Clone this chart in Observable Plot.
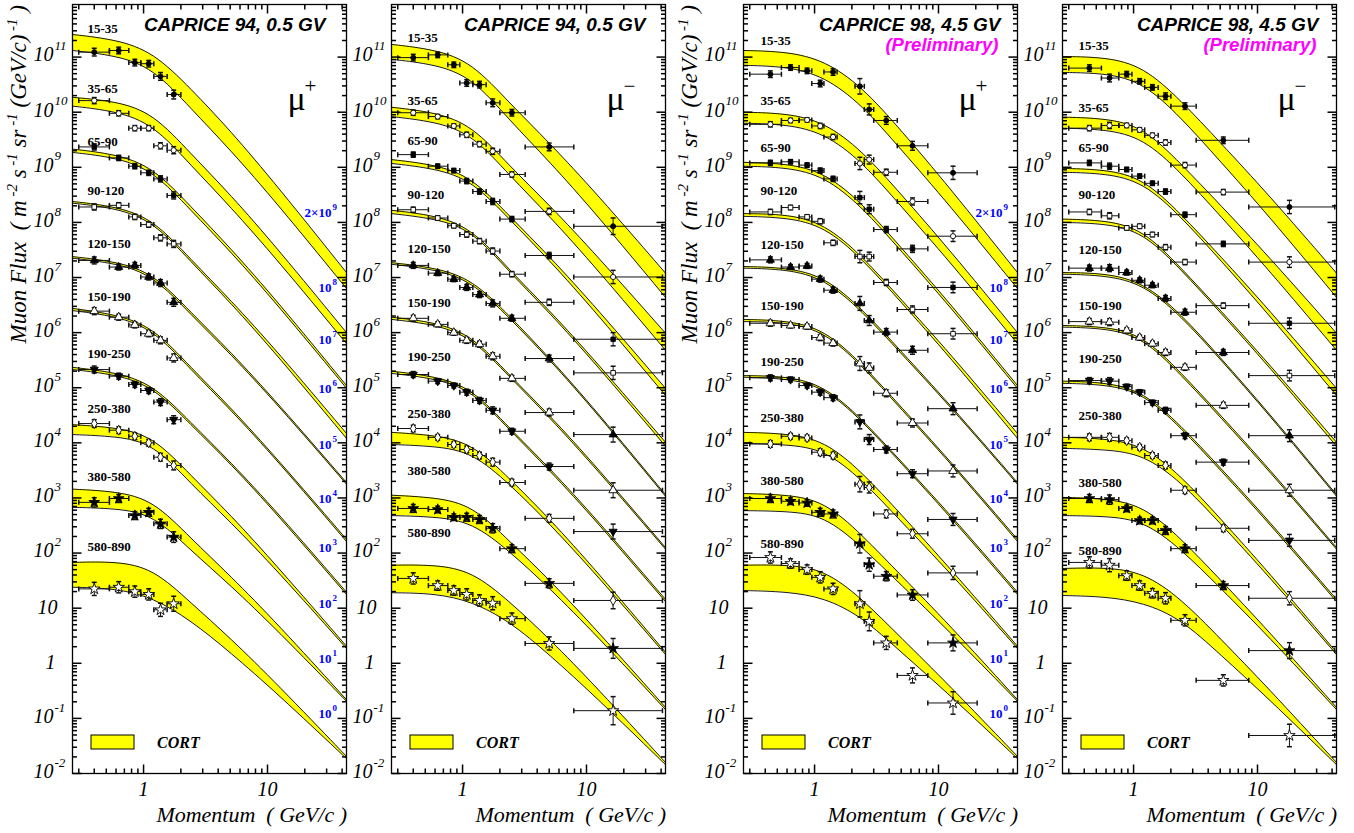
<!DOCTYPE html>
<html>
<head>
<meta charset="utf-8">
<script src="https://cdn.jsdelivr.net/npm/d3@7"></script>
<script src="https://cdn.jsdelivr.net/npm/@observablehq/plot@0.6"></script>
<style>
  html, body { margin: 0; padding: 0; background: #fff; }
  #chart { position: relative; width: 1354px; height: 833px; overflow: hidden; background: #fff; }
  #chart svg { position: absolute; top: 0; overflow: visible; }
</style>
</head>
<body>
<div id="chart"></div>
<script>
// ================= DATA =================
// Altitude (atmospheric depth) ranges, g/cm^2
const altitudeRanges = ["15-35", "35-65", "65-90", "90-120", "120-150", "150-190", "190-250", "250-380", "380-580", "580-890"];
// Scale factors applied to each range (blue labels)
const factorBase = ["2\u00d710", "10", "10", "10", "10", "10", "10", "10", "10", "10"];
const factorExp = ["9", "8", "7", "6", "5", "4", "3", "2", "1", "0"];

// Momentum grid (GeV/c) at which the CORT band edges were read
const momentumGrid = [0.267, 0.6, 1.2, 2.4, 5, 12, 43.4];

// CORT bands, log10(flux) upper / lower edge, one row per altitude range
const cort94PlusHi = [
  [11.41, 11.32, 11.09, 10.43, 9.67, 8.66, 7.09],
  [10.27, 10.20, 9.98, 9.25, 8.51, 7.53, 6.00],
  [9.33, 9.24, 9.00, 8.29, 7.54, 6.57, 5.04],
  [8.38, 8.29, 8.06, 7.33, 6.60, 5.66, 4.17],
  [7.38, 7.29, 7.08, 6.37, 5.66, 4.73, 3.28],
  [6.44, 6.33, 6.10, 5.37, 4.65, 3.71, 2.25],
  [5.37, 5.28, 5.06, 4.37, 3.66, 2.74, 1.29],
  [4.33, 4.28, 4.12, 3.41, 2.70, 1.76, 0.31],
  [3.16, 3.12, 2.96, 2.27, 1.59, 0.72, -0.66],
  [1.83, 1.85, 1.72, 1.10, 0.46, -0.38, -1.69]
];
const cort94PlusLo = [
  [11.12, 11.03, 10.80, 10.07, 9.32, 8.34, 6.80],
  [10.11, 10.02, 9.78, 9.04, 8.29, 7.32, 5.80],
  [9.27, 9.18, 8.94, 8.22, 7.48, 6.51, 4.99],
  [8.35, 8.26, 8.02, 7.29, 6.55, 5.59, 4.08],
  [7.35, 7.26, 7.04, 6.33, 5.62, 4.70, 3.25],
  [6.40, 6.30, 6.06, 5.33, 4.61, 3.68, 2.21],
  [5.33, 5.24, 5.02, 4.33, 3.63, 2.70, 1.25],
  [4.15, 4.12, 3.99, 3.26, 2.57, 1.68, 0.27],
  [2.83, 2.81, 2.70, 2.05, 1.42, 0.60, -0.69],
  [1.38, 1.36, 1.19, 0.78, 0.20, -0.55, -1.73]
];
const cort94MinusHi = [
  [11.23, 11.14, 10.90, 10.16, 9.45, 8.53, 7.08],
  [10.09, 10.00, 9.76, 9.02, 8.32, 7.41, 5.99],
  [9.14, 9.05, 8.82, 8.11, 7.39, 6.45, 4.99],
  [8.22, 8.13, 7.89, 7.13, 6.41, 5.47, 4.01],
  [7.27, 7.18, 6.97, 6.30, 5.55, 4.58, 3.06],
  [6.28, 6.19, 5.95, 5.22, 4.51, 3.57, 2.10],
  [5.30, 5.21, 4.99, 4.26, 3.55, 2.62, 1.16],
  [4.19, 4.14, 3.99, 3.35, 2.63, 1.68, 0.20],
  [3.05, 3.01, 2.87, 2.21, 1.52, 0.61, -0.80],
  [1.78, 1.79, 1.67, 1.12, 0.45, -0.43, -1.80]
];
const cort94MinusLo = [
  [10.96, 10.87, 10.63, 9.85, 9.11, 8.15, 6.64],
  [9.92, 9.83, 9.60, 8.85, 8.12, 7.17, 5.68],
  [9.07, 8.98, 8.76, 8.05, 7.32, 6.36, 4.86],
  [8.16, 8.07, 7.86, 7.09, 6.37, 5.42, 3.94],
  [7.24, 7.15, 6.93, 6.26, 5.52, 4.55, 3.03],
  [6.24, 6.15, 5.91, 5.19, 4.47, 3.53, 2.07],
  [5.26, 5.17, 4.95, 4.23, 3.51, 2.58, 1.12],
  [3.97, 3.94, 3.83, 3.25, 2.54, 1.61, 0.16],
  [2.68, 2.66, 2.56, 2.03, 1.37, 0.51, -0.84],
  [1.28, 1.27, 1.12, 0.76, 0.16, -0.62, -1.84]
];
const cort98PlusHi = [
  [11.12, 11.10, 10.94, 10.47, 9.67, 8.66, 7.09],
  [10.00, 9.98, 9.82, 9.31, 8.51, 7.53, 6.00],
  [9.09, 9.07, 8.91, 8.36, 7.54, 6.57, 5.04],
  [8.16, 8.15, 7.98, 7.40, 6.60, 5.66, 4.17],
  [7.20, 7.18, 7.02, 6.44, 5.66, 4.73, 3.28],
  [6.24, 6.22, 6.06, 5.44, 4.65, 3.71, 2.25],
  [5.22, 5.21, 5.04, 4.44, 3.66, 2.74, 1.29],
  [4.19, 4.17, 4.04, 3.48, 2.70, 1.76, 0.31],
  [3.08, 3.06, 2.94, 2.34, 1.59, 0.72, -0.66],
  [1.78, 1.79, 1.70, 1.18, 0.46, -0.38, -1.69]
];
const cort98PlusLo = [
  [10.85, 10.83, 10.65, 10.14, 9.32, 8.34, 6.80],
  [9.80, 9.78, 9.62, 9.11, 8.29, 7.32, 5.80],
  [9.02, 9.00, 8.84, 8.29, 7.48, 6.51, 4.99],
  [8.11, 8.09, 7.93, 7.35, 6.55, 5.59, 4.08],
  [7.17, 7.15, 6.98, 6.40, 5.62, 4.70, 3.25],
  [6.20, 6.19, 6.02, 5.41, 4.61, 3.68, 2.21],
  [5.19, 5.17, 5.01, 4.41, 3.63, 2.70, 1.25],
  [3.99, 3.97, 3.88, 3.34, 2.57, 1.68, 0.27],
  [2.77, 2.76, 2.68, 2.12, 1.42, 0.60, -0.69],
  [1.32, 1.30, 1.19, 0.85, 0.20, -0.55, -1.73]
];
const cort98MinusHi = [
  [11.01, 11.00, 10.83, 10.22, 9.45, 8.53, 7.08],
  [9.91, 9.89, 9.73, 9.07, 8.32, 7.41, 5.99],
  [8.98, 8.96, 8.80, 8.16, 7.39, 6.45, 4.99],
  [8.06, 8.04, 7.87, 7.18, 6.41, 5.47, 4.01],
  [7.09, 7.08, 6.91, 6.35, 5.55, 4.58, 3.06],
  [6.13, 6.11, 5.95, 5.28, 4.51, 3.57, 2.10],
  [5.12, 5.10, 4.93, 4.32, 3.55, 2.62, 1.16],
  [4.10, 4.08, 3.95, 3.41, 2.63, 1.68, 0.20],
  [3.01, 2.99, 2.86, 2.27, 1.52, 0.61, -0.80],
  [1.72, 1.74, 1.65, 1.18, 0.45, -0.43, -1.80]
];
const cort98MinusLo = [
  [10.72, 10.71, 10.54, 9.91, 9.11, 8.15, 6.64],
  [9.71, 9.69, 9.53, 8.91, 8.12, 7.17, 5.68],
  [8.91, 8.89, 8.73, 8.11, 7.32, 6.36, 4.86],
  [8.00, 7.98, 7.82, 7.15, 6.37, 5.42, 3.94],
  [7.06, 7.04, 6.88, 6.31, 5.52, 4.55, 3.03],
  [6.10, 6.08, 5.91, 5.24, 4.47, 3.53, 2.07],
  [5.08, 5.06, 4.90, 4.28, 3.51, 2.58, 1.12],
  [3.90, 3.88, 3.79, 3.30, 2.54, 1.61, 0.16],
  [2.68, 2.67, 2.59, 2.08, 1.37, 0.51, -0.84],
  [1.23, 1.21, 1.10, 0.81, 0.16, -0.62, -1.84]
];

// Momentum bins of the measured points (GeV/c)
const bins94Plus = { center: [0.40, 0.63, 0.85, 1.10, 1.37, 1.75],
                     lo: [0.30, 0.53, 0.76, 0.95, 1.21, 1.55],
                     hi: [0.53, 0.76, 0.95, 1.21, 1.55, 2.0] };
const bins94Minus = { center: [0.40, 0.63, 0.85, 1.08, 1.37, 1.75, 2.5, 5.0, 16.4],
                      lo: [0.30, 0.53, 0.76, 0.95, 1.21, 1.55, 2.0, 3.2, 7.9],
                      hi: [0.53, 0.76, 0.95, 1.21, 1.55, 2.0, 3.2, 7.9, 41] };
const bins98Plus = { center: [0.44, 0.64, 0.87, 1.11, 1.41, 2.32, 2.76, 3.79, 6.17, 13.1],
                     lo: [0.30, 0.54, 0.75, 0.95, 1.19, 2.12, 2.52, 3.0, 4.65, 8.2],
                     hi: [0.54, 0.75, 0.95, 1.19, 1.52, 2.52, 3.0, 4.65, 8.2, 20.5] };
const bins98Minus = { center: [0.44, 0.64, 0.88, 1.12, 1.42, 1.81, 2.6, 5.3, 18.1],
                      lo: [0.30, 0.55, 0.76, 0.97, 1.23, 1.58, 2.0, 3.2, 8.5],
                      hi: [0.55, 0.76, 0.97, 1.23, 1.58, 2.0, 3.2, 8.5, 42] };

// Measured fluxes, log10, one row per altitude range
const data94Plus = [
  [11.09, 11.12, 10.90, 10.88, 10.65, 10.32],
  [10.21, 9.98, 9.71, 9.71, 9.39, 9.31],
  [9.37, 9.17, 9.02, 8.90, 8.79, 8.49],
  [8.28, 8.31, 8.10, 7.96, 7.72, 7.61],
  [7.31, 7.19, 7.22, 7.01, 6.90, 6.55],
  [6.39, 6.28, 6.14, 5.98, 5.86, 5.54],
  [5.33, 5.21, 5.06, 4.95, 4.74, 4.42],
  [4.35, 4.23, 4.12, 4.00, 3.74, 3.59],
  [2.92, 2.99, 2.68, 2.74, 2.53, 2.29],
  [1.35, 1.38, 1.30, 1.25, 0.97, 1.08]
];
const data94Minus = [
  [10.99, 11.04, 10.86, 10.53, 10.50, 10.17, 9.99, 9.37, 7.93],
  [9.99, 9.92, 9.75, 9.59, 9.42, 9.29, 8.87, 8.20, 7.01],
  [9.23, 9.02, 8.94, 8.75, 8.56, 8.38, 8.06, 7.40, 5.88],
  [8.23, 8.08, 7.94, 7.78, 7.66, 7.48, 7.06, 6.55, 5.27],
  [7.22, 7.08, 6.97, 6.82, 6.69, 6.53, 6.26, 5.53, 4.15],
  [6.26, 6.15, 6.00, 5.86, 5.79, 5.57, 5.17, 4.55, 3.14],
  [5.24, 5.12, 5.04, 4.92, 4.77, 4.59, 4.21, 3.57, 2.39],
  [4.26, 4.10, 3.97, 3.88, 3.77, 3.65, 3.28, 2.63, 1.14],
  [2.81, 2.79, 2.65, 2.65, 2.61, 2.45, 2.08, 1.45, 0.27],
  [1.54, 1.41, 1.32, 1.25, 1.14, 1.09, 0.81, 0.36, -0.86]
];
const data98Plus = [
  [10.69, 10.81, 10.75, 10.52, 10.73, 10.47, 10.05, 9.85, 9.39, 8.90],
  [9.78, 9.85, 9.86, 9.75, 9.55, 9.07, 9.14, 8.91, 8.38, 7.75],
  [9.08, 9.10, 9.04, 8.94, 8.79, 8.45, 8.24, 7.87, 7.52, 6.82],
  [8.19, 8.27, 8.10, 8.02, 7.63, 7.38, 7.38, 6.91, 6.42, 5.98],
  [7.32, 7.19, 7.21, 6.97, 6.77, 6.53, 6.22, 6.01, 5.68, 4.62],
  [6.17, 6.13, 6.11, 5.91, 5.81, 5.44, 5.36, 4.90, 4.36, 3.49],
  [5.18, 5.15, 5.04, 4.92, 4.82, 4.38, 4.06, 3.88, 3.44, 2.61],
  [3.98, 4.12, 4.09, 3.83, 3.77, 3.25, 3.19, 2.71, 2.35, 1.64],
  [2.99, 2.94, 2.91, 2.74, 2.71, 2.17, 1.79, 1.58, 1.24, 0.37],
  [1.92, 1.81, 1.70, 1.56, 1.35, 1.08, 0.76, 0.37, -0.22, -0.72]
];
const data98Minus = [
  [10.80, 10.62, 10.69, 10.56, 10.45, 10.29, 10.11, 9.49, 8.28],
  [9.71, 9.76, 9.76, 9.68, 9.58, 9.45, 9.04, 8.55, 7.28],
  [9.08, 9.02, 8.96, 8.84, 8.71, 8.56, 8.14, 7.61, 6.17],
  [8.19, 8.12, 7.90, 7.93, 7.78, 7.55, 7.28, 6.49, 5.22],
  [7.17, 7.17, 7.09, 6.95, 6.86, 6.62, 6.37, 5.64, 4.13],
  [6.20, 6.19, 6.04, 5.91, 5.80, 5.64, 5.37, 4.68, 3.14],
  [5.13, 5.12, 5.02, 4.92, 4.73, 4.59, 4.13, 3.65, 2.23],
  [4.10, 4.10, 4.04, 3.92, 3.77, 3.59, 3.14, 2.45, 1.18],
  [2.99, 2.97, 2.81, 2.59, 2.59, 2.41, 2.08, 1.41, 0.23],
  [1.83, 1.78, 1.59, 1.41, 1.27, 1.18, 0.78, -0.31, -1.31]
];

// Statistical error half-widths (decades) per momentum bin, and per-range scaling
const err94Plus = [0.07, 0.06, 0.06, 0.06, 0.07, 0.08];
const err94Minus = [0.06, 0.05, 0.05, 0.06, 0.06, 0.07, 0.06, 0.07, 0.15];
const err98Plus = [0.06, 0.05, 0.05, 0.06, 0.06, 0.14, 0.10, 0.07, 0.08, 0.12];
const err98Minus = [0.06, 0.07, 0.05, 0.05, 0.05, 0.06, 0.06, 0.06, 0.12];
const rangeErrScale = [1, 0.8, 0.8, 0.8, 0.9, 0.9, 0.9, 1, 1.2, 1.7];

// Axis ticks
const xMajorTicks = [1, 10];
const xMinorTicks = [0.3, 0.4, 0.5, 0.6, 0.7, 0.8, 0.9, 2, 3, 4, 5, 6, 7, 8, 9, 20, 30, 40];
const yTickExps = [-2, -1, 0, 1, 2, 3, 4, 5, 6, 7, 8, 9, 10, 11];
const yMinorMult = [2, 3, 4, 5, 6, 7, 8, 9];

// ================= LAYOUT / STYLE =================
const W = 350, H = 833, ML = 72, MR = 4, MT = 4, MB = 60;
const FW = W - ML - MR;
const SERIF = "Liberation Serif, Times New Roman, serif";
const SANS = "Liberation Sans, Arial, sans-serif";
const YELLOW = "#ffff00";

const panels = [
  { left: 0, hi: cort94PlusHi, lo: cort94PlusLo, data: data94Plus, bins: bins94Plus, err: err94Plus,
    title: "CAPRICE 94, 0.5 GV", titleDx: -21, prelim: false, sign: "+", factors: true, yTitle: true,
    labelTops: [24, 84, 137, 186, 239, 292, 349, 404, 472, 542], labelDx: 15 },
  { left: 319, hi: cort94MinusHi, lo: cort94MinusLo, data: data94Minus, bins: bins94Minus, err: err94Minus,
    title: "CAPRICE 94, 0.5 GV", titleDx: -20, prelim: false, sign: "\u2212", factors: false, yTitle: false,
    labelTops: [33, 96, 136, 190, 244, 298, 352, 409, 466, 528], labelDx: 16 },
  { left: 671, hi: cort98PlusHi, lo: cort98PlusLo, data: data98Plus, bins: bins98Plus, err: err98Plus,
    title: "CAPRICE 98, 4.5 GV", titleDx: -17, prelim: true, sign: "+", factors: true, yTitle: true,
    labelTops: [36, 96, 143, 186, 240, 301, 357, 413, 476, 539], labelDx: 17 },
  { left: 990, hi: cort98MinusHi, lo: cort98MinusLo, data: data98Minus, bins: bins98Minus, err: err98Minus,
    title: "CAPRICE 98, 4.5 GV", titleDx: -18, prelim: true, sign: "\u2212", factors: false, yTitle: false,
    labelTops: [41, 103, 143, 190, 245, 301, 354, 411, 478, 546], labelDx: 16 }
];
const factorTops = [208, 283, 335, 384, 440, 494, 543, 599, 654, 709];

// small line-segment "symbols" for ticks and error-bar caps
const seg = (x1, y1, x2, y2) => ({ draw(ctx) { ctx.moveTo(x1, y1); ctx.lineTo(x2, y2); } });
const triDown = { draw(ctx, size) { const y = -Math.sqrt(size / (Math.sqrt(3) * 3)); const x = Math.sqrt(3) * y; ctx.moveTo(0, -2 * y); ctx.lineTo(x, y); ctx.lineTo(-x, y); ctx.closePath(); } };
const markerStyles = [
  { symbol: "circle", fill: "black", r: 2.5 },
  { symbol: "circle", fill: "white", r: 2.6 },
  { symbol: "square", fill: "black", r: 2.5 },
  { symbol: "square", fill: "white", r: 2.6 },
  { symbol: "triangle", fill: "black", r: 3.0 },
  { symbol: "triangle", fill: "white", r: 3.2 },
  { symbol: triDown, fill: "black", r: 3.0 },
  { symbol: "diamond", fill: "white", r: 3.0 },
  { symbol: "star", fill: "black", r: 3.4 },
  { symbol: "star", fill: "white", r: 3.6 }
];

const yMajor = yTickExps.map(e => 10 ** e);
const yMinor = yTickExps.flatMap(e => yMinorMult.map(m => m * 10 ** e)).filter(v => v < 9e11);

function buildPanel(cfg) {
  const bandRows = cfg.hi.flatMap((row, r) => momentumGrid.map((p, i) => ({ range: r, p, hi: 10 ** row[i], lo: 10 ** cfg.lo[r][i] })));
  const pts = cfg.data.flatMap((row, r) => row.map((v, i) => {
    const e = cfg.err[i] * rangeErrScale[r];
    return { range: r, p: cfg.bins.center[i], pLo: cfg.bins.lo[i], pHi: cfg.bins.hi[i], f: 10 ** v, fLo: 10 ** (v - e), fHi: 10 ** (v + e) };
  }));
  const ink = "#111";
  const curve = "basis";
  const marks = [
    Plot.areaY(bandRows, { x: "p", y1: "lo", y2: "hi", z: "range", fill: YELLOW, curve, clip: true }),
    Plot.line(bandRows, { x: "p", y: "hi", z: "range", stroke: "black", strokeWidth: 0.9, curve, clip: true }),
    Plot.line(bandRows, { x: "p", y: "lo", z: "range", stroke: "black", strokeWidth: 0.9, curve, clip: true }),
    Plot.ruleY(pts, { y: "f", x1: "pLo", x2: "pHi", stroke: ink, strokeWidth: 1, clip: true }),
    Plot.ruleX(pts, { x: "p", y1: "fLo", y2: "fHi", stroke: ink, strokeWidth: 1, clip: true }),
    Plot.dot(pts, { x: "pLo", y: "f", symbol: seg(0, -2.5, 0, 2.5), stroke: ink, fill: "none" }),
    Plot.dot(pts, { x: "pHi", y: "f", symbol: seg(0, -2.5, 0, 2.5), stroke: ink, fill: "none" }),
    Plot.dot(pts, { x: "p", y: "fLo", symbol: seg(-2.5, 0, 2.5, 0), stroke: ink, fill: "none" }),
    Plot.dot(pts, { x: "p", y: "fHi", symbol: seg(-2.5, 0, 2.5, 0), stroke: ink, fill: "none" }),
    ...markerStyles.map((m, r) => Plot.dot(pts.filter(d => d.range === r), { x: "p", y: "f", symbol: m.symbol, r: m.r, fill: m.fill, stroke: "black", strokeWidth: 0.9 })),
    // ticks, inside the frame on all four sides
    Plot.dot(xMajorTicks, { x: d => d, frameAnchor: "bottom", symbol: seg(0, 0, 0, -9), stroke: "black", fill: "none" }),
    Plot.dot(xMinorTicks, { x: d => d, frameAnchor: "bottom", symbol: seg(0, 0, 0, -5), stroke: "black", fill: "none" }),
    Plot.dot(xMajorTicks, { x: d => d, frameAnchor: "top", symbol: seg(0, 0, 0, 9), stroke: "black", fill: "none" }),
    Plot.dot(xMinorTicks, { x: d => d, frameAnchor: "top", symbol: seg(0, 0, 0, 5), stroke: "black", fill: "none" }),
    Plot.dot(yMajor, { y: d => d, frameAnchor: "left", symbol: seg(0, 0, 9, 0), stroke: "black", fill: "none" }),
    Plot.dot(yMinor, { y: d => d, frameAnchor: "left", symbol: seg(0, 0, 4.5, 0), stroke: "black", fill: "none" }),
    Plot.dot(yMajor, { y: d => d, frameAnchor: "right", symbol: seg(0, 0, -9, 0), stroke: "black", fill: "none" }),
    Plot.dot(yMinor, { y: d => d, frameAnchor: "right", symbol: seg(0, 0, -4.5, 0), stroke: "black", fill: "none" }),
    Plot.frame({ stroke: "black", strokeWidth: 1.3 }),
    // tick labels
    Plot.text(xMajorTicks, { x: d => d, frameAnchor: "bottom", dy: 22, text: d => String(d), fontSize: 20, fontStyle: "italic", fontFamily: SERIF, fill: "black" }),
    Plot.text(yTickExps.filter(e => e > 1 || e < 0), { y: e => 10 ** e, frameAnchor: "left", dx: -19, dy: -2, text: () => "10", textAnchor: "end", fontSize: 20, fontStyle: "italic", fontFamily: SERIF, fill: "black" }),
    Plot.text(yTickExps.filter(e => e > 1 || e < 0), { y: e => 10 ** e, frameAnchor: "left", dx: -18, dy: -11, text: e => e < 0 ? "-" + (-e) : String(e), textAnchor: "start", fontSize: 13, fontStyle: "italic", fontFamily: SERIF, fill: "black" }),
    Plot.text(yTickExps.filter(e => e === 1), { y: e => 10 ** e, frameAnchor: "left", dx: -25, dy: -1, text: () => "10", textAnchor: "middle", fontSize: 20, fontStyle: "italic", fontFamily: SERIF, fill: "black" }),
    Plot.text(yTickExps.filter(e => e === 0), { y: e => 10 ** e, frameAnchor: "left", dx: -22, dy: -1, text: () => "1", textAnchor: "middle", fontSize: 20, fontStyle: "italic", fontFamily: SERIF, fill: "black" }),
    // experiment title
    Plot.text([cfg.title], { frameAnchor: "top-right", dx: cfg.titleDx, dy: 20, text: d => d, textAnchor: "end", lineAnchor: "middle", fontSize: 19, fontWeight: "bold", fontStyle: "italic", fontFamily: SANS, fill: "black" }),
    // muon sign
    Plot.text(["\u03bc"], { frameAnchor: "top-right", dx: -50, dy: 95, text: d => d, textAnchor: "middle", lineAnchor: "middle", fontSize: 34, fontFamily: SERIF, fill: "black" }),
    Plot.text([cfg.sign], { frameAnchor: "top-right", dx: -36, dy: 82, text: d => d, textAnchor: "middle", lineAnchor: "middle", fontSize: 21, fontFamily: SERIF, fill: "black" })
  ];
  if (cfg.prelim) {
    marks.push(Plot.text(["(Preliminary)"], { frameAnchor: "top-right", dx: cfg.titleDx - 2, dy: 41, text: d => d, textAnchor: "end", lineAnchor: "middle", fontSize: 18.5, fontWeight: "bold", fontStyle: "italic", fontFamily: SANS, fill: "#ff00ff" }));
  }
  altitudeRanges.forEach((label, r) => {
    marks.push(Plot.text([label], { frameAnchor: "top-left", dx: cfg.labelDx, dy: cfg.labelTops[r], text: d => d, textAnchor: "start", lineAnchor: "middle", fontSize: 13, fontWeight: "bold", fontFamily: SERIF, fill: "black" }));
  });
  if (cfg.factors) {
    factorBase.forEach((b, r) => {
      marks.push(Plot.text([b], { frameAnchor: "top-right", dx: -15, dy: factorTops[r], text: d => d, textAnchor: "end", lineAnchor: "middle", fontSize: 13, fontWeight: "bold", fontFamily: SERIF, fill: "#0000ff" }));
      marks.push(Plot.text([factorExp[r]], { frameAnchor: "top-right", dx: -14, dy: factorTops[r] - 5, text: d => d, textAnchor: "start", lineAnchor: "middle", fontSize: 9, fontWeight: "bold", fontFamily: SERIF, fill: "#0000ff" }));
    });
  }

  const svgEl = Plot.plot({
    width: W, height: H,
    marginLeft: ML, marginRight: MR, marginTop: MT, marginBottom: MB,
    x: { type: "log", domain: [0.267, 43.4], axis: null },
    y: { type: "log", domain: [0.01, 9e11], axis: null },
    style: { background: "transparent", fontFamily: SERIF },
    marks
  });
  svgEl.style.left = cfg.left + "px";
  const svg = d3.select(svgEl);

  // legend: CORT band
  svg.append("rect").attr("x", ML + 19).attr("y", 735).attr("width", 43).attr("height", 14)
    .attr("fill", YELLOW).attr("stroke", "black").attr("stroke-width", 1);
  svg.append("text").attr("x", ML + 85).attr("y", 748).attr("text-anchor", "start").text("CORT")
    .style("font-family", SERIF).style("font-weight", "bold").style("font-style", "italic").style("font-size", "16px");

  // x-axis title
  svg.append("text").attr("x", ML + FW + 1).attr("y", 822).attr("text-anchor", "end")
    .style("font-family", SERIF).style("font-style", "italic").style("font-size", "22px").style("white-space", "pre")
    .text("Momentum  ( GeV/c )");

  // y-axis title with superscripts
  if (cfg.yTitle) {
    const t = svg.append("text").attr("transform", `translate(26,${MT + 1}) rotate(-90)`).attr("text-anchor", "end")
      .style("font-family", SERIF).style("font-style", "italic").style("font-size", "23px").style("white-space", "pre");
    const parts = [["Muon Flux  ( m", 0], [" -2", 1], [" s", 0], [" -1", 1], [" sr", 0], [" -1", 1], [" (GeV/c)", 0], [" -1", 1], [" )", 0]];
    let raised = false;
    parts.forEach(([s, sup]) => {
      const sp = t.append("tspan").text(s).style("font-size", sup ? "15px" : "23px");
      if (sup && !raised) { sp.attr("dy", -9); raised = true; }
      else if (!sup && raised) { sp.attr("dy", 9); raised = false; }
    });
  }
  return svgEl;
}

const chart = document.getElementById("chart");
panels.forEach(cfg => chart.appendChild(buildPanel(cfg)));
</script>
</body>
</html>
